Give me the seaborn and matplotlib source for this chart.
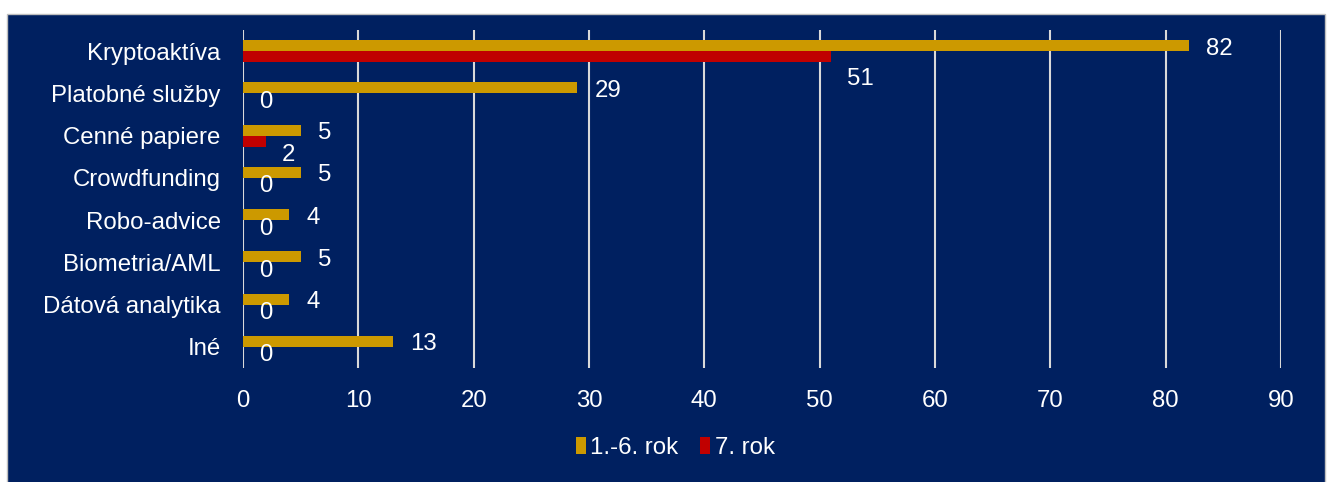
import matplotlib
matplotlib.use("Agg")
import matplotlib.pyplot as plt
import seaborn as sns
import pandas as pd
from matplotlib.patches import Rectangle, Patch

# chart data
categories = ["Kryptoaktíva", "Platobné služby", "Cenné papiere", "Crowdfunding",
              "Robo-advice", "Biometria/AML", "Dátová analytika", "Iné"]
years_1_6 = [82, 29, 5, 5, 4, 5, 4, 13]
year_7 = [51, 0, 2, 0, 0, 0, 0, 0]
series_names = ["1.-6. rok", "7. rok"]
x_ticks = [0, 10, 20, 30, 40, 50, 60, 70, 80, 90]

NAVY = "#002060"
GOLD = "#CC9900"
RED = "#C00000"
GRID = "#D9D9D9"
FS = 17.3

df = pd.DataFrame({
    "kategoria": categories * 2,
    "pocet": years_1_6 + year_7,
    "obdobie": [series_names[0]] * len(categories) + [series_names[1]] * len(categories),
})

sns.set_style("white")
plt.rcParams["font.family"] = ["Liberation Sans", "DejaVu Sans"]

fig = plt.figure(figsize=(13.32, 4.82), dpi=100, facecolor="white")
# dark panel behind the chart
fig.patches.append(Rectangle((7 / 1332, -0.01), 1318 / 1332, (482 - 14) / 482 + 0.01,
                             transform=fig.transFigure, facecolor=NAVY,
                             edgecolor="#BFBFBF", linewidth=1, zorder=-5))

ax = fig.add_axes([243 / 1332, 1 - 368 / 482, (1281 - 243) / 1332, (368 - 30) / 482])
ax.set_facecolor("none")

sns.barplot(data=df, y="kategoria", x="pocet", hue="obdobie", order=categories,
            hue_order=series_names, palette=[GOLD, RED], orient="h",
            width=0.52, saturation=1, ax=ax, legend=False, zorder=3,
            linewidth=0)

ax.set_xlim(0, 90)
ax.set_xticks(x_ticks)
ax.set_ylim(len(categories) - 0.5, -0.5)
ax.grid(axis="x", color=GRID, linewidth=1.5, zorder=0)
ax.set_axisbelow(True)
for s in ax.spines.values():
    s.set_visible(False)
ax.set_xlabel("")
ax.set_ylabel("")
ax.tick_params(axis="both", length=0, colors="white", labelsize=FS)
ax.tick_params(axis="y", pad=16)
ax.tick_params(axis="x", pad=15.5)

# value labels (Excel had some of them nudged by hand)
red_dy_px = [22, 3, 14, 3, 3, 3, 3, 3]
gold_bars, red_bars = ax.containers[0], ax.containers[1]
for p, v in zip(gold_bars, years_1_6):
    ax.annotate(f"{v}", (p.get_width(), p.get_y() + p.get_height() / 2),
                xytext=(17 * 0.72, -3 * 0.72), textcoords="offset points",
                ha="left", va="center", color="white", fontsize=FS)
for p, v, dy in zip(red_bars, year_7, red_dy_px):
    ax.annotate(f"{v}", (p.get_width(), p.get_y() + p.get_height() / 2),
                xytext=(16 * 0.72, -dy * 0.72), textcoords="offset points",
                ha="left", va="center", color="white", fontsize=FS)

handles = [Patch(facecolor=GOLD, edgecolor="none"), Patch(facecolor=RED, edgecolor="none")]
leg = fig.legend(handles, series_names, loc="center", bbox_to_anchor=(0.507, 0.07),
                 ncol=2, frameon=False, fontsize=FS, handlelength=0.4, handleheight=0.7,
                 handletextpad=0.2, columnspacing=0.9)
for t in leg.get_texts():
    t.set_color("white")

fig.savefig("out.png", dpi=100, facecolor="white")
